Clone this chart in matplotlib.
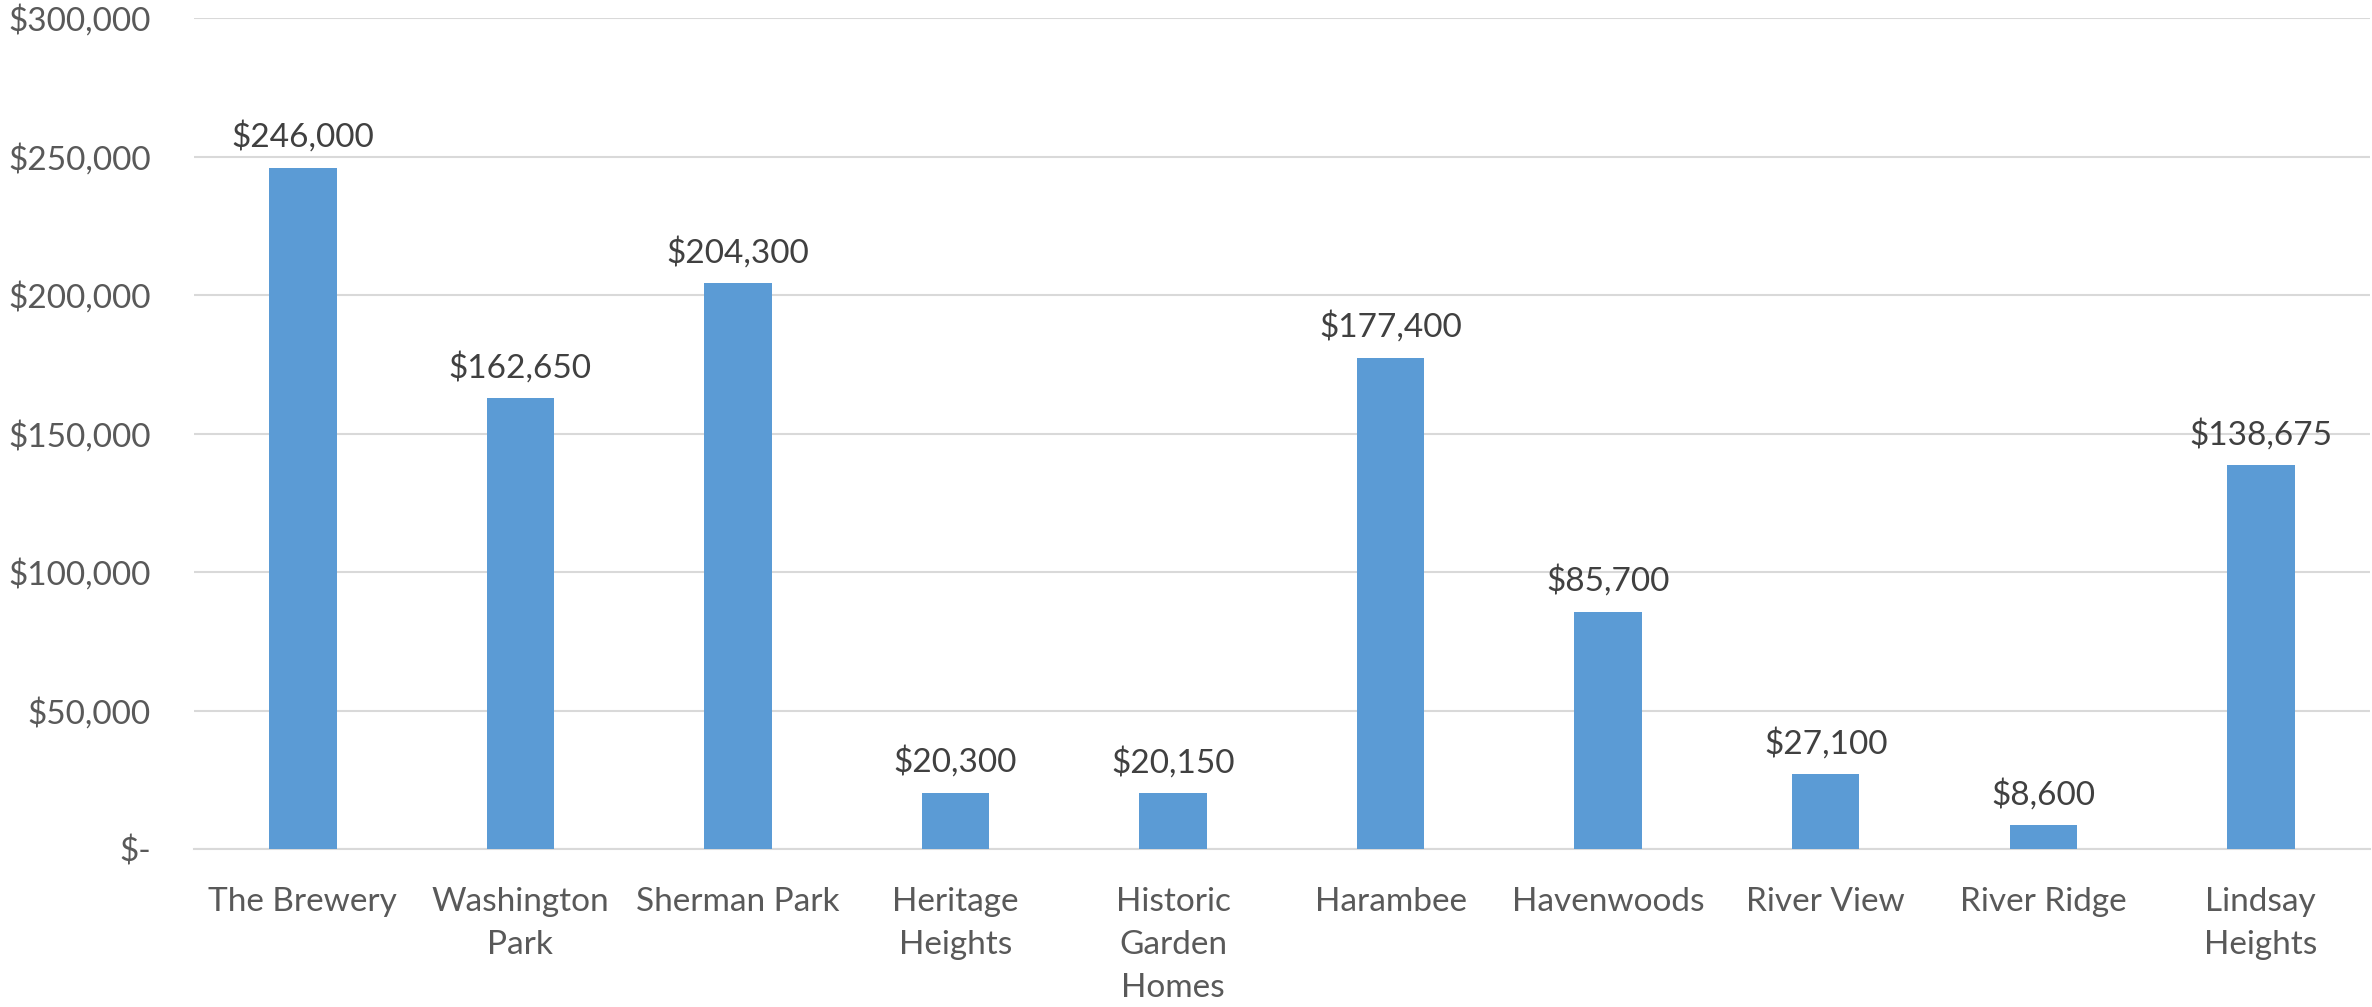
import matplotlib
matplotlib.use("Agg")
import matplotlib.pyplot as plt
from matplotlib.ticker import FuncFormatter, MultipleLocator

categories = ["The Brewery", "Washington\nPark", "Sherman Park", "Heritage\nHeights",
              "Historic\nGarden\nHomes", "Harambee", "Havenwoods", "River View",
              "River Ridge", "Lindsay\nHeights"]
values = [246000, 162650, 204300, 20300, 20150, 177400, 85700, 27100, 8600, 138675]

plt.rcParams['font.family'] = ['Lato', 'DejaVu Sans']

fig = plt.figure(figsize=(23.72, 10.07), dpi=100)
ax = fig.add_axes([0.0818, 0.1569, 0.9172, 0.8252])

x = list(range(len(categories)))
bars = ax.bar(x, values, width=0.31, color="#5B9BD5", zorder=3)

ax.set_xlim(-0.5, len(categories) - 0.5)
ax.set_ylim(0, 300000)
ax.yaxis.set_major_locator(MultipleLocator(50000))

def money(v, pos=None):
    if v == 0:
        return "$-"
    return "${:,.0f}".format(v)

FS = 24
ax.yaxis.set_major_formatter(FuncFormatter(money))
ax.grid(axis='y', color="#D9D9D9", linewidth=1.5, zorder=0)
for s in ["top", "right", "left"]:
    ax.spines[s].set_visible(False)
ax.spines["bottom"].set_color("#D9D9D9")
ax.spines["bottom"].set_linewidth(1.5)

ax.set_xticks(x)
ax.set_xticklabels(categories, fontsize=FS, color="#595959", linespacing=1.55)
ax.tick_params(axis='x', length=0, pad=27)
ax.tick_params(axis='y', length=0, pad=31, labelsize=FS, labelcolor="#595959")

for xi, v in zip(x, values):
    ax.annotate(money(v), (xi, v), xytext=(0, 15), textcoords="offset points",
                ha="center", va="baseline", fontsize=FS, color="#404040")

fig.savefig("out.png", dpi=100)
